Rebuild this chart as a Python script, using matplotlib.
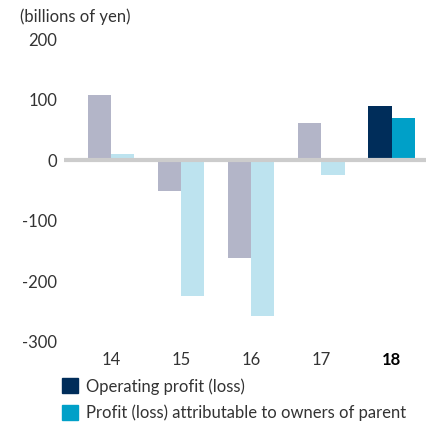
import numpy as np
import matplotlib.pyplot as plt
from matplotlib.patches import Patch

plt.rcParams['font.family'] = ['Lato', 'DejaVu Sans']
plt.rcParams['axes.unicode_minus'] = False

years = ['14', '15', '16', '17', '18']
operating_profit = [108, -50, -162, 61, 90]
profit_owners = [10, -224, -257, -24, 70]

# past years muted, latest year highlighted
op_colors = ['#b3b5c8'] * 4 + ['#002d5a']
pr_colors = ['#bde3ef'] * 4 + ['#00a0c8']

W, H = 426, 424
fig = plt.figure(figsize=(W / 100, H / 100), dpi=100)
ax = fig.add_axes([64 / W, (H - 342) / H, (426 - 64) / W, (342 - 39) / H])

x = np.arange(len(years))
width = 0.33
ax.bar(x - width / 2, operating_profit, width, color=op_colors, zorder=2)
ax.bar(x + width / 2, profit_owners, width, color=pr_colors, zorder=2)

# zero line sits on top of the bars
ax.axhline(0, color='#cccccc', lw=3, zorder=3)

ax.set_xlim(-0.67, len(years) - 1 + 0.49)
ax.set_ylim(-300, 200)
ax.set_yticks([-300, -200, -100, 0, 100, 200])
ax.set_xticks(x)
ax.set_xticklabels(years)
ax.tick_params(length=0, labelsize=12, colors='#333333')
ax.tick_params(axis='y', pad=5)
ax.tick_params(axis='x', pad=7)
lbl = ax.get_xticklabels()[-1]
lbl.set_fontweight('bold')
lbl.set_color('black')
for s in ax.spines.values():
    s.set_visible(False)

fig.text(20 / W, 1 - 17 / H, '(billions of yen)', fontsize=12, color='#333333',
         va='center', ha='left')

handles = [Patch(color='#002d5a', label='Operating profit (loss)'),
           Patch(color='#00a0c8', label='Profit (loss) attributable to owners of parent')]
fig.legend(handles=handles, loc='upper left', bbox_to_anchor=(62 / W, 1 - 378 / H),
           frameon=False, fontsize=12, handlelength=0.96, handleheight=1.0,
           handletextpad=0.45, labelspacing=0.6, borderpad=0, borderaxespad=0,
           labelcolor='#333333')

fig.savefig('out.png', dpi=100)
